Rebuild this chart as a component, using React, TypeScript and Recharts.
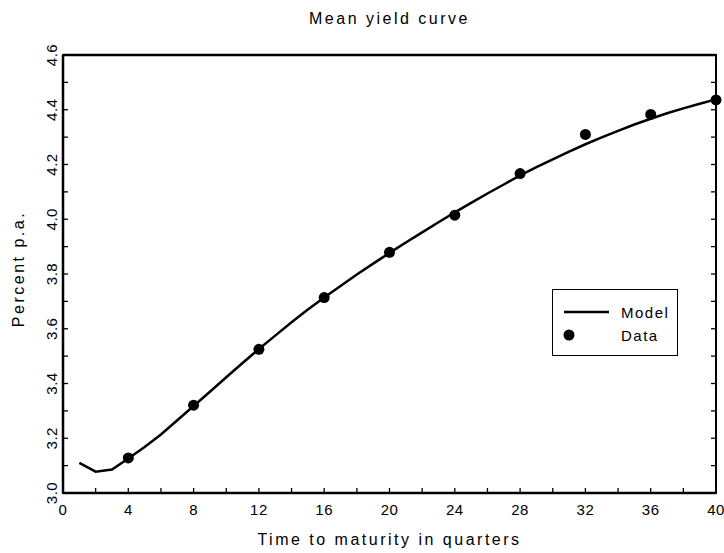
import { ComposedChart, Line, Scatter, XAxis, YAxis } from "recharts"

const FONT = '"Liberation Sans", Arial, sans-serif'

// model curve, one value per quarter (1..40)
const quarters = [
  1, 2, 3, 4, 5, 6, 7, 8, 9, 10, 11, 12, 13, 14, 15, 16, 17, 18, 19, 20,
  21, 22, 23, 24, 25, 26, 27, 28, 29, 30, 31, 32, 33, 34, 35, 36, 37, 38, 39, 40,
]
const modelYield = [
  3.11, 3.078, 3.086, 3.126, 3.168, 3.214, 3.266, 3.318, 3.37, 3.423,
  3.475, 3.526, 3.575, 3.624, 3.67, 3.714, 3.756, 3.798, 3.838, 3.877,
  3.915, 3.952, 3.989, 4.025, 4.06, 4.094, 4.127, 4.16, 4.19, 4.219,
  4.247, 4.274, 4.299, 4.323, 4.346, 4.367, 4.387, 4.405, 4.422, 4.438,
]

// observed yields
const dataQuarters = [4, 8, 12, 16, 20, 24, 28, 32, 36, 40]
const dataYield = [3.128, 3.321, 3.525, 3.714, 3.879, 4.015, 4.167, 4.31, 4.383, 4.436]

const xTicks = [0, 2, 4, 6, 8, 10, 12, 14, 16, 18, 20, 22, 24, 26, 28, 30, 32, 34, 36, 38, 40]
const yTicks = [3.0, 3.1, 3.2, 3.3, 3.4, 3.5, 3.6, 3.7, 3.8, 3.9, 4.0, 4.1, 4.2, 4.3, 4.4, 4.5, 4.6]

const modelData = quarters.map((q, i) => ({ q, y: modelYield[i] }))
const obsData = dataQuarters.map((q, i) => ({ q, y: dataYield[i] }))

// layout
const W = 724
const H = 553
const M = { top: 30, right: 8, left: 0, bottom: 0 }
const Y_AXIS_W = 63
const X_AXIS_H = 60
const TOP_AXIS_H = 25
const PLOT_W = W - M.left - M.right - Y_AXIS_W
const PLOT_H = H - M.top - M.bottom - X_AXIS_H - TOP_AXIS_H
const FRAME = 2.5

const tickText = { fontFamily: FONT, fontSize: 15, fill: "#000", letterSpacing: 0.5 }
const titleText = { fontFamily: FONT, fontSize: 16, fill: "#000", letterSpacing: 2.5 }

function BottomTick(props: any) {
  const { x, y, payload } = props
  const v = payload.value
  return (
    <g>
      <line x1={x} x2={x} y1={y} y2={y - 5} stroke="#000" strokeWidth={1.3} />
      {v % 4 === 0 && (
        <text x={x} y={y + 22} textAnchor="middle" style={tickText}>
          {v}
        </text>
      )}
    </g>
  )
}

function TopTick(props: any) {
  const { x, y } = props
  return <line x1={x} x2={x} y1={y} y2={y + 5} stroke="#000" strokeWidth={1.3} />
}

// left tick + label, and the mirrored inward tick on the right frame edge
function LeftTick(props: any) {
  const { x, y, payload } = props
  const v = payload.value
  const showLabel = Math.round(v * 10) % 2 === 0
  const rx = x + PLOT_W
  return (
    <g>
      <line x1={x} x2={x + 5} y1={y} y2={y} stroke="#000" strokeWidth={1.3} />
      <line x1={rx} x2={rx - 5} y1={y} y2={y} stroke="#000" strokeWidth={1.3} />
      {showLabel && (
        <text
          x={x - 6}
          y={y}
          textAnchor="middle"
          transform={`rotate(-90, ${x - 6}, ${y})`}
          style={tickText}
        >
          {v.toFixed(1)}
        </text>
      )}
    </g>
  )
}

const axisLine = { stroke: "#000", strokeWidth: FRAME }

export default function App() {
  return (
    <div style={{ position: "absolute", left: 0, top: 0, width: W, height: H, background: "#fff" }}>
      <ComposedChart width={W} height={H} margin={M}>
        <XAxis
          dataKey="q"
          type="number"
          domain={[0, 40]}
          ticks={xTicks}
          interval={0}
          tickSize={0}
          tickMargin={0}
          tickLine={false}
          stroke="#000"
          strokeWidth={FRAME}
          axisLine={axisLine}
          tick={<BottomTick />}
          height={X_AXIS_H}
          label={{
            content: (p: any) => {
              const vb = p.viewBox
              return (
                <text x={vb.x + vb.width / 2} y={vb.y + 52} textAnchor="middle" style={titleText}>
                  Time to maturity in quarters
                </text>
              )
            },
          }}
        />
        <XAxis
          xAxisId="top"
          orientation="top"
          type="number"
          domain={[0, 40]}
          ticks={xTicks}
          interval={0}
          tickSize={0}
          tickMargin={0}
          tickLine={false}
          stroke="#000"
          strokeWidth={FRAME}
          axisLine={axisLine}
          tick={<TopTick />}
          height={TOP_AXIS_H}
          label={{
            content: (p: any) => {
              const vb = p.viewBox
              return (
                <text x={vb.x + vb.width / 2} y={24} textAnchor="middle" style={titleText}>
                  Mean yield curve
                </text>
              )
            },
          }}
        />
        <YAxis
          type="number"
          domain={[3.0, 4.6]}
          ticks={yTicks}
          interval={0}
          tickSize={0}
          tickMargin={0}
          tickLine={false}
          stroke="#000"
          strokeWidth={FRAME}
          axisLine={axisLine}
          tick={<LeftTick />}
          width={Y_AXIS_W}
          label={{
            content: (p: any) => {
              const vb = p.viewBox
              const cx = vb.x + 24
              const cy = vb.y + vb.height / 2 - 5
              return (
                <text x={cx} y={cy} textAnchor="middle" transform={`rotate(-90, ${cx}, ${cy})`} style={titleText}>
                  Percent p.a.
                </text>
              )
            },
          }}
        />
        <Line
          data={modelData}
          dataKey="y"
          type="linear"
          stroke="#000"
          strokeWidth={2.5}
          dot={false}
          isAnimationActive={false}
        />
        <Scatter
          data={obsData}
          dataKey="y"
          fill="#000"
          shape={(p: any) => <circle cx={p.cx} cy={p.cy} r={5.5} fill="#000" />}
          isAnimationActive={false}
        />
      </ComposedChart>
      {/* plot frame */}
      <div
        style={{
          position: "absolute",
          left: M.left + Y_AXIS_W - FRAME / 2,
          top: M.top + TOP_AXIS_H - FRAME / 2,
          width: PLOT_W + FRAME,
          height: PLOT_H + FRAME,
          border: `${FRAME}px solid #000`,
          boxSizing: "border-box",
          pointerEvents: "none",
        }}
      />
      <div
        style={{
          position: "absolute",
          left: 552,
          top: 289,
          width: 124,
          height: 65,
          border: "1px solid #000",
          background: "#fff",
        }}
      >
        <svg width={124} height={65}>
          <line x1={11} x2={56} y1={22} y2={22} stroke="#000" strokeWidth={2.5} />
          <circle cx={16} cy={45} r={5.5} fill="#000" />
          <text x={68} y={28} style={{ fontFamily: FONT, fontSize: 15, fill: "#000", letterSpacing: 1.5 }}>
            Model
          </text>
          <text x={68} y={51} style={{ fontFamily: FONT, fontSize: 15, fill: "#000", letterSpacing: 1.5 }}>
            Data
          </text>
        </svg>
      </div>
    </div>
  )
}
